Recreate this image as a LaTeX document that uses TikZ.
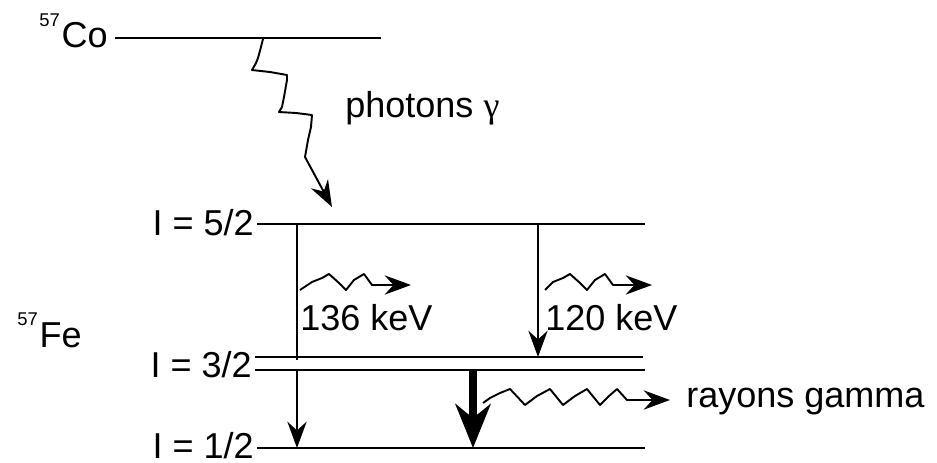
\documentclass[tikz,border=0pt]{standalone}
\usepackage{fontspec}
\setmainfont{Liberation Sans}
\newfontfamily\greekfont{Liberation Serif}
\usetikzlibrary{arrows.meta}
\newcommand{\isotope}[2]{\raisebox{12.5pt}{\fontsize{10.5}{12}\selectfont #1}\kern1pt#2}

\begin{document}
\begin{tikzpicture}[x=0.02cm,y=-0.02cm,font=\fontsize{20.5}{24}\selectfont,
 level/.style={line width=1.4pt},
 trans/.style={line width=1.1pt,-{Stealth[length=15pt,width=11pt,inset=5pt]}},
 strong/.style={line width=4pt,-{Stealth[length=25pt,width=20pt,inset=8pt]}},
 wave/.style={line width=1.1pt,line join=round,-{Stealth[length=15pt,width=11pt,inset=5pt]}},
 lbl/.style={inner sep=0pt}]
 \useasboundingbox (0,0) rectangle (937,463);
 % levels
 \draw[level] (115,38)--(381,38);
 \draw[level] (257,224)--(645,224);
 \draw[level] (255,357)--(643,357) (255,370)--(645,370);
 \draw[level] (257,448)--(645,448);
 \node[lbl,anchor=base east] (co) at (108,48) {\isotope{57}{Co}};
 \node[lbl,anchor=base east] (fe) at (82,347) {\isotope{57}{Fe}};
 \node[lbl,anchor=base east] (l52) at (254,235) {I = 5/2};
 \node[lbl,anchor=base east] (l32) at (252,377) {I = 3/2};
 \node[lbl,anchor=base east] (l12) at (254,458) {I = 1/2};
 % end points of the transitions
 \coordinate (src) at (263,39);
 \coordinate (hit) at (332,207);
 \coordinate (a52) at (297,224); \coordinate (a32) at (297,360);
 \coordinate (b32) at (297,370); \coordinate (a12) at (297,448);
 \coordinate (c52) at (538,224); \coordinate (c32) at (538,357);
 \coordinate (d32) at (473,370); \coordinate (d12) at (473,448);
 \draw[wave] (src)--(261,47)--(258,58)--(256,63)--(252,70)--(270,72)--(287,75)--(287,80)
  --(284,97)--(282,107)--(279,112)--(296,113)--(312,115)--(311,127)--(308,140)--(305,157)--(hit);
 \node[lbl,anchor=base west] (ph) at (345,117) {photons {\greekfont γ}};
 % transitions
 \draw[line width=1.1pt] (a52)--(a32);
 \draw[trans] (b32)--(a12);
 \draw[trans] (c52)--(c32);
 \draw[strong] (d32)--(d12);
 % emitted photons
 \draw[wave] (300,290)--(312,282)--(322,278)--(329,274)--(339,283)--(346,290)--(354,280)
  --(364,274)--(372,285)--(411,285);
 \draw[wave] (545,290)--(553,282)--(563,278)--(570,274)--(580,283)--(587,290)--(595,280)
  --(605,274)--(613,285)--(652,285);
 \draw[wave] (483,403)--(490,398)--(500,393)--(510,389)--(525,405)--(537,396)--(550,389)
  --(563,405)--(575,396)--(587,389)--(600,405)--(609,396)--(617,389)--(627,400)--(670,400);
 \node[lbl,anchor=base west] (e136) at (300,330) {136 keV};
 \node[lbl,anchor=base west] (e120) at (545,330) {120 keV};
 \node[lbl,anchor=base west] (rg) at (686,407) {rayons gamma};
\end{tikzpicture}
\end{document}
